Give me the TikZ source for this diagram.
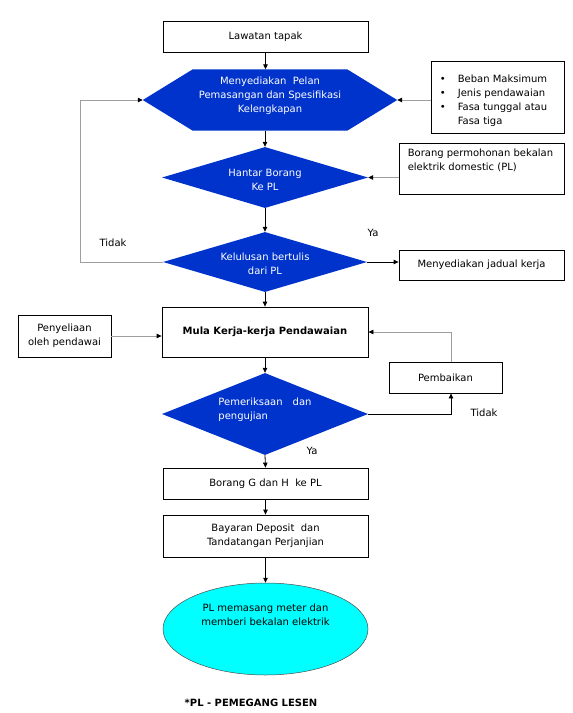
\documentclass[tikz,border=0pt]{standalone}
\usepackage{fontspec}
\setmainfont{DejaVu Sans}
\usepackage{tikz}
\usetikzlibrary{arrows.meta,shapes.geometric,calc,positioning}
\definecolor{biru}{RGB}{0,51,204}
\definecolor{sian}{RGB}{0,255,255}
\tikzset{
  kotak/.style={draw=black,line width=0.8pt,align=center,inner sep=0pt},
  berlian/.style={diamond,fill=biru,inner sep=0pt},
  putih/.style={text=white,align=center,inner sep=0pt},
  anak/.style={-{Triangle[length=5pt,width=4.5pt]},line width=0.8pt},
  kelabu/.style={-{Triangle[length=5pt,width=4.5pt,color=black]},line width=0.8pt,draw=gray!75},
  jawab/.style={inner sep=0pt}
}

\begin{document}
\fontsize{10}{14}\selectfont
\begin{tikzpicture}[x=1pt,y=-1pt]
\path[fill=white] (0,0) rectangle (573,713);
\useasboundingbox (0,0) rectangle (573,713);
% aliran utama
\node[kotak,minimum width=205pt,minimum height=31pt] (lawatan) at (265.5,36.5) {Lawatan tapak};
\node[inner sep=0pt,minimum width=154pt,minimum height=61pt] (hex) at (270,100) {};
\fill[biru] (hex.north west) -- (hex.north east) -- ($(hex.east)+(50,0)$) coordinate (hexE)
  -- (hex.south east) -- (hex.south west) -- ($(hex.west)-(50,0)$) coordinate (hexW) -- cycle;
\node[putih] (hexteks) at ($(hex)+(0,-4)$) {Menyediakan\ \ Pelan\\Pemasangan dan Spesifikasi\\Kelengkapan};
\node[berlian,minimum width=206pt,minimum height=61pt,
  label={[putih,yshift=-2.5pt]center:{Hantar Borang\\Ke PL}}] (hantar) at (265,177.5) {};
\node[berlian,minimum width=204pt,minimum height=60pt,
  label={[putih,yshift=-1.5pt]center:{Kelulusan bertulis\\dari PL}}] (lulus) at (265,262) {};
\node[kotak,minimum width=206pt,minimum height=50pt] (mula) at (265,332) {\bfseries Mula Kerja-kerja Pendawaian};
\node[berlian,minimum width=206pt,minimum height=82pt,
  label={[putih,align=left,yshift=4pt]center:{Pemeriksaan\quad dan\\pengujian}}] (periksa) at (265,414) {};
\node[kotak,minimum width=205pt,minimum height=31pt] (borangG) at (265.5,483.5) {Borang G dan H\ \ ke PL};
\node[kotak,minimum width=205pt,minimum height=42pt] (bayar) at (265.5,536) {Bayaran Deposit\ \ dan\\Tandatangan Perjanjian};
\node[ellipse,draw=black!70,line width=0.5pt,fill=sian,minimum width=205pt,minimum height=92pt,inner sep=0pt,
  label={[align=center,inner sep=0pt,yshift=14pt]center:{PL memasang meter dan\\memberi bekalan elektrik}}] (pasang) at (265.5,629) {};
% kotak sisi
\node[kotak,minimum width=133pt,minimum height=72pt,
  label={[anchor=north west,align=left,inner sep=0pt,xshift=9pt,yshift=-14pt]north west:{%
  \makebox[18pt][l]{\textbullet}Beban Maksimum\\
  \makebox[18pt][l]{\textbullet}Jenis pendawaian\\
  \makebox[18pt][l]{\textbullet}Fasa tunggal atau\\
  \hspace*{18pt}Fasa tiga}}] (syarat) at (497.5,97) {};
\node[kotak,minimum width=165pt,minimum height=51pt,
  label={[anchor=north west,align=left,inner sep=0pt,xshift=9pt,yshift=-6pt]north west:{%
  Borang permohonan bekalan\\elektrik domestic (PL)}}] (borangPL) at (481.5,168.5) {};
\node[kotak,minimum width=165pt,minimum height=30pt] (jadual) at (481.5,265) {Menyediakan jadual kerja};
\node[kotak,minimum width=93pt,minimum height=42pt] (penyelia) at (64.5,336) {Penyeliaan\\oleh pendawai};
\node[kotak,minimum width=113pt,minimum height=31pt] (baiki) at (445.5,377.5) {Pembaikan};
% jawapan
\node[jawab] (ya1) at (373,233) {Ya};
\node[jawab] (tidak1) at (113,243) {Tidak};
\node[jawab] (ya2) at (312,451) {Ya};
\node[jawab] (tidak2) at (484,413) {Tidak};
\node[jawab] (nota) at (251,703) {\bfseries *PL - PEMEGANG LESEN};
\coordinate (kiri) at (80,0);
% penyambung
\draw[anak] (lawatan.south) -- (lawatan.south |- hex.north);
\draw[kelabu] (syarat.west |- hexE) -- (hexE);
\draw[anak] (hantar.north |- hex.south) -- (hantar.north);
\draw[kelabu] (borangPL.west |- hantar.east) -- (hantar.east);
\draw[anak] (hantar.south) -- (lulus.north);
\draw[anak] (lulus.east) -- (lulus.east -| jadual.west);
\draw[kelabu] (lulus.west) -| (kiri |- hexW) -- (hexW);
\draw[anak] (lulus.south) -- (mula.north);
\draw[kelabu] (penyelia.east) -- (penyelia.east -| mula.west);
\draw[anak] (mula.south) -- (periksa.north);
\draw[anak] (periksa.east) -| ([xshift=5.5pt]baiki.south);
\draw[kelabu] ([xshift=5.5pt]baiki.north) |- (mula.east);
\draw[anak] (periksa.south) -- (borangG.north);
\draw[anak] (borangG.south) -- (bayar.north);
\draw[anak] (bayar.south) -- (pasang.north);
\end{tikzpicture}
\end{document}
